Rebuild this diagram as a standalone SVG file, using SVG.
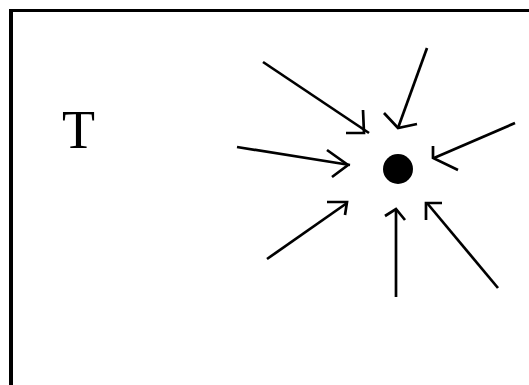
<svg xmlns="http://www.w3.org/2000/svg" width="529" height="385" viewBox="0 0 529 385">
<style>
.frame{stroke:#000;fill:none}
.c line{stroke:#000;stroke-width:2.7;fill:none}
.c polyline{stroke:#000;stroke-width:2.7;fill:none;stroke-linejoin:miter}
.lbl{font-family:"Liberation Serif","Times New Roman",serif;font-size:54px;fill:#000}
</style>
<rect width="529" height="385" fill="#fff"/>
<g id="frame">
<line class="frame" x1="11" y1="9" x2="11" y2="385" stroke-width="4"/>
<line class="frame" x1="9" y1="10.5" x2="529" y2="10.5" stroke-width="3"/>
</g>
<g id="label"><text class="lbl" x="62" y="148">T</text></g>
<g id="center"><circle cx="398" cy="169" r="15" fill="#000"/></g>
<g id="connectors" class="c">
<line x1="263" y1="62" x2="369" y2="133"/>
<polyline points="363,110 364,133 346,133"/>
<line x1="427" y1="48" x2="398" y2="128"/>
<polyline points="384,113 398,128 417,124"/>
<line x1="515" y1="123" x2="434" y2="158"/>
<polyline points="433,146 433,158 458,170"/>
<line x1="237" y1="147" x2="350" y2="165"/>
<polyline points="327,150 348,165 332,177"/>
<line x1="267" y1="259" x2="347" y2="203"/>
<polyline points="327,202 347,202 345,215"/>
<line x1="396" y1="297" x2="396" y2="209"/>
<polyline points="385,216 396,209 405,220"/>
<line x1="498" y1="288" x2="427" y2="203"/>
<polyline points="442,203 426,203 426,220"/>
</g>
</svg>
